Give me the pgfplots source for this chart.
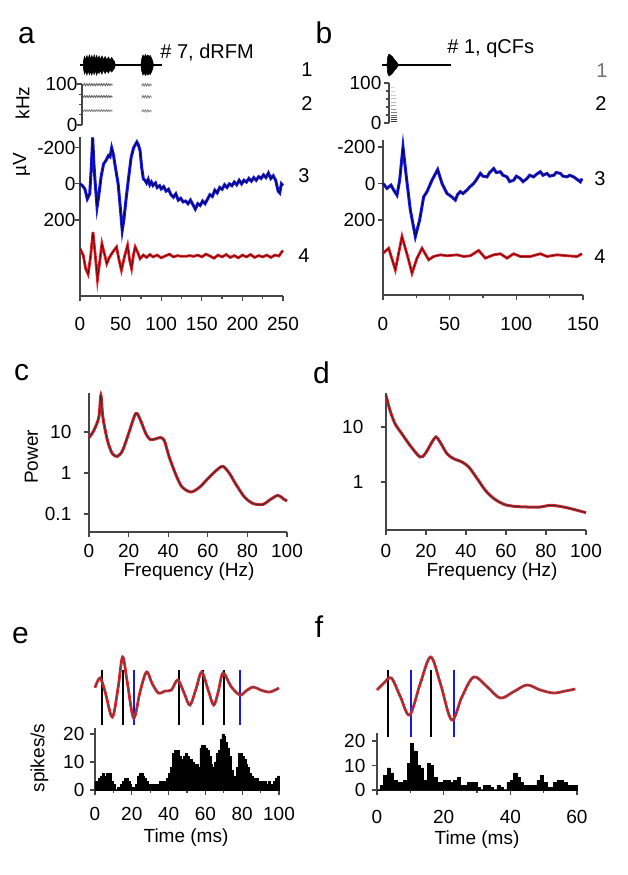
\documentclass[border=0pt]{standalone}
\usepackage{fontspec}
\setmainfont{Liberation Sans}
\usepackage{pgfplots}
\usepackage{pgfplotstable}
\pgfplotsset{compat=1.18}

\definecolor{tblue}{RGB}{25,25,225}
\definecolor{tred}{RGB}{225,35,45}
\definecolor{axgray}{RGB}{70,70,70}

\newcommand{\tk}{\fontsize{9.5}{11}\selectfont}
\newcommand{\pl}{\fontsize{15}{18}\selectfont}
\newcommand{\nm}{\fontsize{10}{12}\selectfont}

\pgfplotsset{
  panel/.style={scale only axis, axis lines*=left, tick align=outside,
    axis line style={axgray, line width=0.7pt},
    tick style={axgray, line width=0.6pt},
    major tick length=2.5pt, minor tick length=1.6pt,
    ticklabel style={font=\tk, text=black},
    clip=false, anchor=center},
  blank/.style={scale only axis, hide axis, clip=false, anchor=center},
}

% ---- panel a, b traces (uV) ----
\pgfplotstableread{
t v
0 0
3 10
6 28
9 83
12 55
14 -100
15.6 -258
17 -120
18.5 -18
21 129
23 70
26 -40
29 -110
32 -130
35 -157
37 -150
39 -200
41 -166
44 -80
47 0
50 150
52 258
54 200
57 74
60 -40
63 -147
66 -200
70 -232
72 -215
74 -184
76 -90
78 -28
80 -20
82 -5
84 -25
86 5
88 -10
90 9
93 -5
95 20
98 10
100 28
103 15
106 40
109 30
112 60
115 74
118 55
121 90
124 80
127 100
130 95
133 110
136 90
139 115
142 140
145 110
148 120
151 95
154 110
157 85
160 60
163 70
166 35
169 50
172 20
175 30
178 5
181 20
184 0
187 10
190 -10
193 5
196 -20
199 0
202 -20
205 -10
208 -30
211 -15
214 -35
217 -20
220 -40
223 -30
226 -50
229 -35
232 -60
235 -30
238 -45
241 -20
244 40
246 50
248 0
250 10
}\blueA

\pgfplotstableread{
t v
0 359
4 396
7 470
10 501
13 405
16 267
19 405
21.5 531
24 442
27 332
30 387
33 442
36 410
40 380
45 350
48 420
51 479
55 400
58.6 341
61 420
63.5 470
66 390
68 350
71 380
74 415
78 395
82 408
86 392
90 405
95 395
100 410
105 400
110 390
115 405
120 398
125 402
130 402
135 398
140 402
145 395
150 405
155 390
160 400
165 412
170 395
175 405
180 392
185 408
190 398
195 410
200 395
205 405
210 392
215 408
220 398
225 405
230 395
235 408
240 395
245 400
248 380
250 370
}\redA

\pgfplotstableread{
t v
0 0
3 27
6 9
8 36
10.5 64
12.5 -18
15 -200
17.5 -36
20.5 145
24.25 291
27.5 200
30.5 73
33 45
36.75 -18
41 -76
44.25 0
48 55
51 70
54.25 91
56 60
58 45
60 55
63 36
65 20
68 0
70 -20
73 -55
75 -40
78 -36
80 -60
83 -82
85 -60
88 -64
90 -45
93 -36
95 -10
98 -18
100 -40
103 -27
105 -10
108 -27
110 -45
113 -36
115 -50
118 -64
120 -45
123 -55
125 -40
128 -45
130 -60
133 -55
135 -40
138 -36
140 -45
143 -36
146 -20
148 -9
149.25 -27
}\blueB

\pgfplotstableread{
t v
0 382
4.25 355
9.25 473
14.25 291
18.5 400
21.75 491
25.5 409
29.25 355
34.25 418
38 400
43 391
48 396
55.5 391
60.5 400
65.5 396
71.75 367
76.75 409
83 391
88 385
93 409
98 385
103 400
110.5 400
118 385
123 400
130.5 391
138 396
145.5 400
149.25 385
}\redB

% ---- stimulus envelopes ----
\pgfplotstableread{
t a
4 0
4.5 0.5
5.5 0.85
7 0.55
8.5 0.95
10 0.6
11.5 1.0
13 0.6
14.5 0.95
16 0.6
17.5 1.0
19 0.6
20.5 0.95
22 0.6
23.5 0.9
25 0.55
27 0.9
29 0.55
31 0.85
33 0.5
35 0.8
37 0.5
39 0.75
41 0.5
42.5 0.35
43.5 0
}\stimAup
\pgfplotstableread{
t a
4 0
4.5 -0.45
5.5 -0.9
7 -0.6
8.5 -1.0
10 -0.55
11.5 -0.95
13 -0.65
14.5 -1.0
16 -0.6
17.5 -0.95
19 -0.55
20.5 -1.0
22 -0.6
23.5 -0.85
25 -0.55
27 -0.9
29 -0.5
31 -0.85
33 -0.55
35 -0.8
37 -0.5
39 -0.7
41 -0.5
42.5 -0.3
43.5 0
}\stimAlo
\pgfplotstableread{
t a
75 0
76 0.6
77.5 1.0
79 0.8
80.5 1.05
82 0.85
83.5 1.0
85 0.85
86.5 0.95
88 0.7
89.5 0.4
90.5 0
}\stimBup
\pgfplotstableread{
t a
75 0
76 -0.6
77.5 -1.0
79 -0.8
80.5 -1.05
82 -0.85
83.5 -1.0
85 -0.85
86.5 -0.95
88 -0.7
89.5 -0.4
90.5 0
}\stimBlo
\pgfplotstableread{
t a
3 0
3.5 0.8
4.5 1.1
5.5 1.0
6.5 0.9
7.5 0.75
8.5 0.55
9.5 0.4
10.5 0.25
11.5 0
}\stimCup
\pgfplotstableread{
t a
3 0
3.5 -0.8
4.5 -1.1
5.5 -1.0
6.5 -0.9
7.5 -0.75
8.5 -0.55
9.5 -0.4
10.5 -0.25
11.5 0
}\stimClo

% ---- power spectra ----
\pgfplotstableread{
f p
0 7.27
2.5 11.0
5 23.2
6 78.4
7 23.2
9.3 6.26
11.8 2.96
14.4 2.55
17 3.57
20 9.10
23.6 28.0
26 19.3
28.7 9.10
31 6.50
34 6.88
36 7.27
38 6.26
40.5 2.46
44 0.877
47 0.456
51.5 0.344
56 0.456
60 0.727
64 1.12
67.6 1.45
71 0.963
74 0.549
78.5 0.260
83 0.179
88 0.172
91 0.216
95.4 0.285
98 0.237
100 0.207
}\powC
\pgfplotstableread{
f p
0 37.7
2 20.1
4.5 11.5
7.9 7.57
12 4.64
17 2.85
19.6 3.27
23 5.34
25 6.58
27 5.34
30.5 3.27
33.8 2.66
38 2.31
41.4 1.87
45.6 1.15
49.7 0.705
54 0.498
59 0.393
64 0.361
70.7 0.351
77 0.351
82 0.376
87 0.361
92.5 0.327
100 0.277
}\powD

% ---- filtered LFP in e, f ----
\pgfplotstableread{
t v
0 2
2.7 31
5.5 -10
9.4 -86
12.5 0
15 94
17.5 20
21 -89
24.5 -10
28 49
31 15
34.5 -14
38 -8
41.5 -5
45 25
48.5 -15
51.6 -50
55 0
58 49
61.5 -5
64.5 -50
67 -10
69.6 46
74 5
78.8 -20
82 -8
86 4
90 -5
95 -11
100 1
}\lfpE
\pgfplotstableread{
t v
0 0
2 20
4.3 36
7 -20
9.8 -75
13 20
16.1 99
19 20
22.4 -90
25.5 -20
29 39
33 10
37 -24
41 -5
45 15
49 0
53 -9
56.5 -3
59.5 3
}\lfpF

\begin{document}
\begin{tikzpicture}[x=0.5pt,y=-0.5pt]
\fill[white] (0,0) rectangle (628,875);
\useasboundingbox (0,0) rectangle (628,875);

% ================= panel a =================
\begin{axis}[blank, at={(90.75pt,-32.5pt)}, width=101.5pt, height=12pt,
  xmin=0, xmax=250, ymin=-1.2, ymax=1.2]
\addplot[black, line width=1pt] coordinates {(0,0) (101,0)};
\addplot[black, fill=black, line width=0.3pt] table {\stimAup} \closedcycle;
\addplot[black, fill=black, line width=0.3pt] table {\stimAlo} \closedcycle;
\addplot[black, fill=black, line width=0.3pt] table {\stimBup} \closedcycle;
\addplot[black, fill=black, line width=0.3pt] table {\stimBlo} \closedcycle;
\end{axis}

\begin{axis}[panel, at={(91.25pt,-52.25pt)}, width=100.5pt, height=20.5pt,
  axis x line=none, axis y line*=left,
  xmin=2.5, xmax=250, ymin=0, ymax=100,
  ytick={0,100}, yticklabels={0,100}, minor ytick={25,50,75},
  yticklabel style={xshift=3.7pt}]
\addplot[black!60, line width=0.45pt] coordinates {(4,96) (5.5,101) (7,96) (8.5,101) (10,96) (11.5,101) (13,96) (14.5,101) (16,96) (17.5,101) (19,96) (20.5,101) (22,96) (23.5,101) (25,96) (26.5,101) (28,96) (29.5,101) (31,96) (32.5,101) (34,96) (35.5,101) (37,96) (38.5,100) (40,97)};
\addplot[black!60, line width=0.45pt] coordinates {(4,67) (5.5,72) (7,67) (8.5,72) (10,67) (11.5,72) (13,67) (14.5,72) (16,67) (17.5,72) (19,67) (20.5,72) (22,67) (23.5,72) (25,67) (26.5,72) (28,67) (29.5,72) (31,67) (32.5,72) (34,67) (35.5,72) (37,67) (38.5,71) (40,68)};
\addplot[black!50, line width=0.45pt] coordinates {(4,33) (5.5,37) (7,33) (8.5,37) (10,33) (11.5,37) (13,33) (14.5,37) (16,33) (17.5,37) (19,33) (20.5,37) (22,33) (23.5,37) (25,33) (26.5,37) (28,33) (29.5,37) (31,33) (32.5,37) (34,33) (35.5,37) (37,33) (38.5,36) (40,34)};
\addplot[black!50, line width=0.45pt] coordinates {(76,95) (77.5,101) (79,95) (80.5,101) (82,95) (83.5,101) (85,95) (86.5,100) (88,96)};
\addplot[black!50, line width=0.45pt] coordinates {(76,66) (77.5,72) (79,66) (80.5,72) (82,66) (83.5,72) (85,66) (86.5,71) (88,67)};
\addplot[black!45, line width=0.45pt] coordinates {(76,32) (77.5,37) (79,32) (80.5,37) (82,32) (83.5,37) (85,32) (86.5,36) (88,33)};
\end{axis}

\begin{axis}[panel, at={(90.75pt,-108.25pt)}, width=101.5pt, height=79.5pt,
  y dir=reverse, xmin=0, xmax=250, ymin=-260, ymax=622,
  xtick={0,50,100,150,200,250}, xticklabels={0,50,100,150,200,250},
  minor xtick={25,75,125,175,225},
  ytick={-200,0,200}, yticklabels={-200,0,200},
  xticklabel style={yshift=-4.8pt}, yticklabel style={xshift=3.7pt}]
\addplot[tblue, line width=1.5pt] table {\blueA};
\addplot[black!70!blue, line width=0.4pt] table {\blueA};
\addplot[tred, line width=1.4pt] table {\redA};
\addplot[black!60!red, line width=0.4pt] table {\redA};
\end{axis}

% ================= panel b =================
\begin{axis}[blank, at={(241.5pt,-32.5pt)}, width=100pt, height=12pt,
  xmin=0, xmax=150, ymin=-1.2, ymax=1.2]
\addplot[black, line width=1pt] coordinates {(-0.5,0) (51,0)};
\addplot[black, fill=black, line width=0.3pt] table {\stimCup} \closedcycle;
\addplot[black, fill=black, line width=0.3pt] table {\stimClo} \closedcycle;
\end{axis}

\begin{axis}[panel, at={(243pt,-51.5pt)}, width=97pt, height=20pt,
  axis x line=none, axis y line*=left,
  xmin=4.5, xmax=150, ymin=0, ymax=100,
  ytick={0,100}, yticklabels={0,100}, minor ytick={20,40,60,80},
  yticklabel style={xshift=2.2pt}]
\addplot[black!80, line width=0.5pt] coordinates {(6,3) (10.5,3)};
\addplot[black!75, line width=0.5pt] coordinates {(6,8) (10.5,8)};
\addplot[black!70, line width=0.5pt] coordinates {(6,13) (10.5,13)};
\addplot[black!60, line width=0.5pt] coordinates {(6,19) (10.5,19)};
\addplot[black!50, line width=0.5pt] coordinates {(6,26) (10.5,26)};
\addplot[black!40, line width=0.5pt] coordinates {(6,34) (10,34)};
\addplot[black!32, line width=0.5pt] coordinates {(6,43) (10,43)};
\addplot[black!28, line width=0.5pt] coordinates {(6,52) (9.5,52)};
\addplot[black!24, line width=0.5pt] coordinates {(6,61) (9.5,61)};
\addplot[black!20, line width=0.5pt] coordinates {(6,70) (9.5,70)};
\addplot[black!18, line width=0.5pt] coordinates {(6,79) (9,79)};
\addplot[black!15, line width=0.5pt] coordinates {(6,88) (9,88)};
\end{axis}

\begin{axis}[panel, at={(241.5pt,-108.75pt)}, width=100pt, height=77.5pt,
  y dir=reverse, xmin=0, xmax=150, ymin=-238, ymax=611,
  xtick={0,50,100,150}, xticklabels={0,50,100,150},
  minor xtick={25,75,125},
  ytick={-200,0,200}, yticklabels={-200,0,200},
  xticklabel style={yshift=-5.3pt}, yticklabel style={xshift=2.2pt}]
\addplot[tblue, line width=1.5pt] table {\blueB};
\addplot[black!70!blue, line width=0.4pt] table {\blueB};
\addplot[tred, line width=1.4pt] table {\redB};
\addplot[black!60!red, line width=0.4pt] table {\redB};
\end{axis}

% ================= panel c =================
\begin{axis}[panel, at={(94pt,-231.25pt)}, width=99pt, height=69.5pt,
  ymode=log, xmin=0, xmax=100, ymin=0.0364, ymax=89,
  xtick={0,20,40,60,80,100}, xticklabels={0,20,40,60,80,100},
  ytick={0.1,1,10}, yticklabels={0.1,1,10}, yminorticks=false,
  xticklabel style={yshift=0pt}, yticklabel style={xshift=-2.8pt}]
\addplot[tred, line width=1.5pt, smooth, tension=0.5] table {\powC};
\addplot[black!80, line width=0.5pt, smooth, tension=0.5] table {\powC};
\end{axis}

% ================= panel d =================
\begin{axis}[panel, at={(243pt,-230.75pt)}, width=100pt, height=68.5pt,
  ymode=log, xmin=0, xmax=100, ymin=0.134, ymax=41.5,
  xtick={0,20,40,60,80,100}, xticklabels={0,20,40,60,80,100},
  ytick={1,10}, yticklabels={1,10}, yminorticks=false,
  xticklabel style={yshift=-1pt}, yticklabel style={xshift=-5.3pt}]
\addplot[tred, line width=1.5pt, smooth, tension=0.5] table {\powD};
\addplot[black!80, line width=0.5pt, smooth, tension=0.5] table {\powD};
\end{axis}

% ================= panel e =================
\begin{axis}[blank, at={(93.5pt,-345pt)}, width=92pt, height=40pt,
  xmin=0, xmax=100, ymin=-125, ymax=115]
\addplot[black, line width=1.1pt] coordinates {(3.6,55) (3.6,-110)};
\addplot[black, line width=1.1pt] coordinates {(15.2,55) (15.2,-110)};
\addplot[black, line width=1.1pt] coordinates {(45.6,55) (45.6,-110)};
\addplot[black, line width=1.1pt] coordinates {(58.5,55) (58.5,-110)};
\addplot[black, line width=1.1pt] coordinates {(70.3,55) (70.3,-110)};
\addplot[tblue, line width=1.1pt] coordinates {(21.2,55) (21.2,-110)};
\addplot[tblue, line width=1.1pt] coordinates {(78.8,55) (78.8,-110)};
\addplot[tred, line width=1.4pt, smooth, tension=0.55] table {\lfpE};
\addplot[black!70, line width=0.4pt, smooth, tension=0.55] table {\lfpE};
\end{axis}

\begin{axis}[panel, at={(93.5pt,-379.5pt)}, width=92pt, height=31pt,
  xmin=0, xmax=100, ymin=0, ymax=22.1,
  xtick={0,20,40,60,80,100}, xticklabels={0,20,40,60,80,100},
  minor xtick={10,30,50,70,90},
  ytick={0,10,20}, yticklabels={0,10,20},
  xticklabel style={yshift=-2.8pt}, yticklabel style={xshift=0.7pt}]
\addplot[black, fill=black, line width=0.3pt, const plot] coordinates {
(0,3) (1,3) (2,4) (3,5) (4,6) (5,5) (6,6) (7,5) (8,6) (9,3)
(10,2) (11,0) (12,1) (13,0) (14,2) (15,3) (16,4) (17,4) (18,3) (19,2)
(20,1) (21,1) (22,2) (23,5) (24,6) (25,6) (26,5) (27,4) (28,3) (29,2)
(30,2) (31,2) (32,1) (33,2) (34,2) (35,3) (36,3) (37,3) (38,2) (39,4)
(40,6) (41,8) (42,13) (43,14) (44,13) (45,14) (46,12) (47,11) (48,12) (49,13)
(50,12) (51,10) (52,11) (53,10) (54,9) (55,9) (56,8) (57,15) (58,16) (59,16)
(60,15) (61,14) (62,12) (63,9) (64,8) (65,10) (66,13) (67,14) (68,18) (69,20)
(70,19) (71,17) (72,15) (73,12) (74,7) (75,5) (76,4) (77,8) (78,13) (79,13)
(80,12) (81,11) (82,9) (83,8) (84,6) (85,5) (86,4) (87,4) (88,4) (89,3)
(90,3) (91,3) (92,3) (93,2) (94,3) (95,2) (96,2) (97,3) (98,4) (99,5) (100,5)} \closedcycle;
\end{axis}

% ================= panel f =================
\begin{axis}[blank, at={(238.5pt,-347.5pt)}, width=100pt, height=45pt,
  xmin=0, xmax=60, ymin=-150, ymax=120]
\addplot[black, line width=1.1pt] coordinates {(3.3,60) (3.3,-141)};
\addplot[black, line width=1.1pt] coordinates {(16.1,60) (16.1,-141)};
\addplot[tblue, line width=1.1pt] coordinates {(10.1,60) (10.1,-141)};
\addplot[tblue, line width=1.1pt] coordinates {(23.2,60) (23.2,-141)};
\addplot[tred, line width=1.4pt, smooth, tension=0.55] table {\lfpF};
\addplot[black!70, line width=0.4pt, smooth, tension=0.55] table {\lfpF};
\end{axis}

\begin{axis}[panel, at={(238.5pt,-380.75pt)}, width=100pt, height=28.5pt,
  xmin=0, xmax=60, ymin=0, ymax=23.3,
  xtick={0,20,40,60}, xticklabels={0,20,40,60},
  minor xtick={10,30,50},
  ytick={0,10,20}, yticklabels={0,10,20},
  xticklabel style={yshift=-4.3pt}, yticklabel style={xshift=0.2pt}]
\addplot[black, fill=black, line width=0.3pt, const plot] coordinates {
(0,0) (1,2) (2,6) (3,9) (4,7) (5,4) (6,3) (7,3) (8,4) (9,11)
(10,19) (11,16) (12,10) (13,9) (14,4) (15,11) (16,10) (17,5) (18,3) (19,3)
(20,4) (21,4) (22,3) (23,4) (24,5) (25,2) (26,2) (27,3) (28,3) (29,3)
(30,1) (31,0) (32,2) (33,2) (34,1) (35,0) (36,2) (37,1) (38,0) (39,3)
(40,4) (41,7) (42,5) (43,3) (44,2) (45,2) (46,2) (47,2) (48,4) (49,6)
(50,3) (51,1) (52,1) (53,3) (54,4) (55,4) (56,3) (57,2) (58,2) (59,2) (60,2)} \closedcycle;
\end{axis}

% ================= text =================
\node[font=\pl, anchor=base] at (26.5,43) {a};
\node[font=\pl, anchor=base] at (324,43) {b};
\node[font=\pl, anchor=base] at (21.5,380) {c};
\node[font=\pl, anchor=base] at (321.5,383) {d};
\node[font=\pl, anchor=base] at (20.5,643) {e};
\node[font=\pl, anchor=base] at (319,637) {f};

\node[font=\nm, anchor=base west, inner sep=0pt] at (160,58) {\# 7, dRFM};
\node[font=\nm, anchor=base west, inner sep=0pt] at (447,53) {\# 1, qCFs};

\node[font=\nm] at (307,70) {1};
\node[font=\nm] at (307,104) {2};
\node[font=\nm] at (304,176) {3};
\node[font=\nm] at (304,256) {4};
\node[font=\nm, text=black!55] at (602,71) {1};
\node[font=\nm] at (601,104) {2};
\node[font=\nm] at (600,179) {3};
\node[font=\nm] at (600,257) {4};

\node[font=\tk, rotate=90] at (22.5,103) {kHz};
\node[font=\tk, rotate=90] at (21.5,165) {µV};
\node[font=\tk, rotate=90] at (31.5,457) {Power};
\node[font=\tk, rotate=90] at (39.5,758) {spikes/s};
\node[font=\tk] at (189,572) {Frequency (Hz)};
\node[font=\tk] at (492,572) {Frequency (Hz)};
\node[font=\tk] at (186,838) {Time (ms)};
\node[font=\tk] at (477,840) {Time (ms)};
\end{tikzpicture}
\end{document}
